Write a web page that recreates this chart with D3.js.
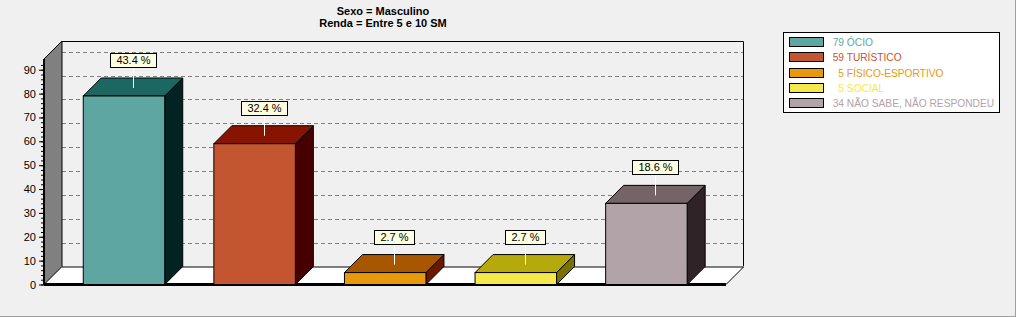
<!DOCTYPE html>
<html><head><meta charset="utf-8">
<script src="https://cdn.jsdelivr.net/npm/d3@7"></script>
<style>
body{margin:0;background:#f0f0f0}
svg{display:block}
text{font-family:"Liberation Sans",Arial,sans-serif}
</style>
</head><body>
<svg id="c" width="1016" height="317"></svg>
<script>
// ---- data ----
const categories = ["ÓCIO", "TURÍSTICO", "FÍSICO-ESPORTIVO", "SOCIAL", "NÃO SABE, NÃO RESPONDEU"];
const counts = [79, 59, 5, 5, 34];
const percents = [43.4, 32.4, 2.7, 2.7, 18.6];
const yTicks = [0, 10, 20, 30, 40, 50, 60, 70, 80, 90];
const yMinorTicks = d3.range(0, 94, 2);
const titleLines = ["Sexo = Masculino", "Renda = Entre 5 e 10 SM"];
const frontColors = ["#5ea6a2", "#c45531", "#e8990b", "#f5e84c", "#b1a3a7"];
const topColors = ["#1d6762", "#871400", "#a85600", "#b6a90c", "#746367"];
const sideColors = ["#012422", "#470000", "#6a1800", "#787000", "#302328"];

// ---- layout ----
const svg = d3.select("#c");
const D = 18;               // 3D depth offset
const left = 44, right = 726;
const y = d3.scaleLinear().domain([0, 94.5]).range([284.5, 59]);
const x = d3.scaleBand().domain(categories).range([58.7, 711.7])
  .paddingInner(0.376).paddingOuter(0.188);
const yb = y(0), ytop = y.range()[1];

// background
svg.append("rect").attr("width", 1016).attr("height", 317).attr("fill", "#f0f0f0");

// back wall
svg.append("rect").attr("x", left + D).attr("y", ytop - D)
  .attr("width", right - left).attr("height", yb - ytop)
  .attr("fill", "#f0f0f0");
svg.append("path")
  .attr("d", `M${left + D},${ytop - D + 0.5}H${right + D - 0.5}V${yb - D}`)
  .attr("fill", "none").attr("stroke", "#000").attr("stroke-width", 1);

// gridlines on back wall
svg.append("g").selectAll("line").data(yTicks.filter(d => d > 0)).join("line")
  .attr("x1", left + D).attr("x2", right + D - 1)
  .attr("y1", d => Math.round(y(d) - D) + 0.5).attr("y2", d => Math.round(y(d) - D) + 0.5)
  .attr("stroke", "#808080").attr("stroke-dasharray", "4,3");

// floor
svg.append("path")
  .attr("d", `M${left + D},${yb - D}H${right + D}L${right},${yb}H${left}Z`)
  .attr("fill", "#fff");
svg.append("path")
  .attr("d", `M${left + D},${yb - D + 0.5}H${right + D - 0.5}L${right},${yb}`)
  .attr("fill", "none").attr("stroke", "#000");

// left wall
svg.append("path")
  .attr("d", `M${left},${yb}V${ytop}L${left + D},${ytop - D}V${yb - D}Z`)
  .attr("fill", "#808080").attr("stroke", "#000");

// floor front thick line
svg.append("line").attr("x1", left).attr("x2", right)
  .attr("y1", yb).attr("y2", yb).attr("stroke", "#000").attr("stroke-width", 3);

// y axis
const axis = svg.append("g").attr("transform", `translate(${left - 1},0)`);
axis.call(d3.axisLeft(y).tickValues(yMinorTicks).tickSize(2).tickFormat(""))
  .call(g => g.select(".domain").remove());
const axisMajor = svg.append("g").attr("transform", `translate(${left - 1},0)`)
  .call(d3.axisLeft(y).tickValues(yTicks).tickSize(4).tickPadding(3).tickFormat(d3.format("d")));
axisMajor.select(".domain").remove();
axisMajor.selectAll("text").attr("font-size", 11).attr("font-family", "'Liberation Sans',Arial,sans-serif").attr("fill", "#000");
svg.append("line").attr("x1", left).attr("x2", left).attr("y1", ytop).attr("y2", yb + 1)
  .attr("stroke", "#000").attr("stroke-width", 2);

// bars
const bars = svg.append("g");
categories.forEach((c, i) => {
  const x0 = x(c), x1 = x0 + x.bandwidth();
  const yt = y(counts[i]);
  const g = bars.append("g");
  g.append("path")
    .attr("d", `M${x1},${yt}L${x1 + D},${yt - D}V${yb - D}L${x1},${yb}Z`)
    .attr("fill", sideColors[i]).attr("stroke", "#000");
  g.append("path")
    .attr("d", `M${x0},${yt}L${x0 + D},${yt - D}H${x1 + D}L${x1},${yt}Z`)
    .attr("fill", topColors[i]).attr("stroke", "#000");
  g.append("rect").attr("x", x0).attr("y", yt)
    .attr("width", x.bandwidth()).attr("height", yb - yt)
    .attr("fill", frontColors[i]).attr("stroke", "#000");
});

// labels
const labels = svg.append("g");
categories.forEach((c, i) => {
  const cx = Math.round(x(c) + x.bandwidth() / 2 + D / 2) + 0.5;
  const yt = y(counts[i]);
  const boxBottom = Math.round(yt - 29) + 0.5;
  const g = labels.append("g");
  g.append("line").attr("x1", cx).attr("x2", cx)
    .attr("y1", boxBottom).attr("y2", yt - D / 2 + 1)
    .attr("stroke", "#fff");
  const t = g.append("text").attr("x", cx).attr("y", boxBottom - 3.5)
    .attr("text-anchor", "middle").attr("font-size", 11).attr("fill", "#000")
    .text(percents[i].toFixed(1) + " %");
  const w = t.node().getComputedTextLength() + 12;
  g.insert("rect", "text").attr("x", Math.round(cx - w / 2) + 0.5).attr("y", boxBottom - 14)
    .attr("width", Math.round(w)).attr("height", 14)
    .attr("fill", "#ffffe1").attr("stroke", "#000");
});

// title
const title = svg.append("g");
titleLines.forEach((t, i) => {
  title.append("text").attr("x", 383).attr("y", 15 + i * 12)
    .attr("text-anchor", "middle").attr("font-size", 11).attr("font-weight", "bold")
    .attr("fill", "#000").text(t);
});

// legend
const lg = svg.append("g");
lg.append("rect").attr("x", 783.5).attr("y", 32.5).attr("width", 216).attr("height", 80)
  .attr("fill", "#fff").attr("stroke", "#000");
categories.forEach((c, i) => {
  const yy = 37.5 + Math.round(i * 15.3);
  lg.append("rect").attr("x", 789.5).attr("y", yy).attr("width", 34).attr("height", 9)
    .attr("fill", frontColors[i]).attr("stroke", "#000");
  lg.append("text").attr("x", 832.7).attr("y", yy + 8.5)
    .attr("font-size", 10.2).attr("fill", frontColors[i])
    .style("white-space", "pre")
    .text(String(counts[i]).padStart(2, "\u2007") + " " + c);
});

// outer frame (right & bottom)
svg.append("line").attr("x1", 1015.5).attr("x2", 1015.5).attr("y1", 0).attr("y2", 317).attr("stroke", "#a0a0a0");
svg.append("line").attr("x1", 0).attr("x2", 1016).attr("y1", 316.5).attr("y2", 316.5).attr("stroke", "#a0a0a0");
</script>
</body></html>
